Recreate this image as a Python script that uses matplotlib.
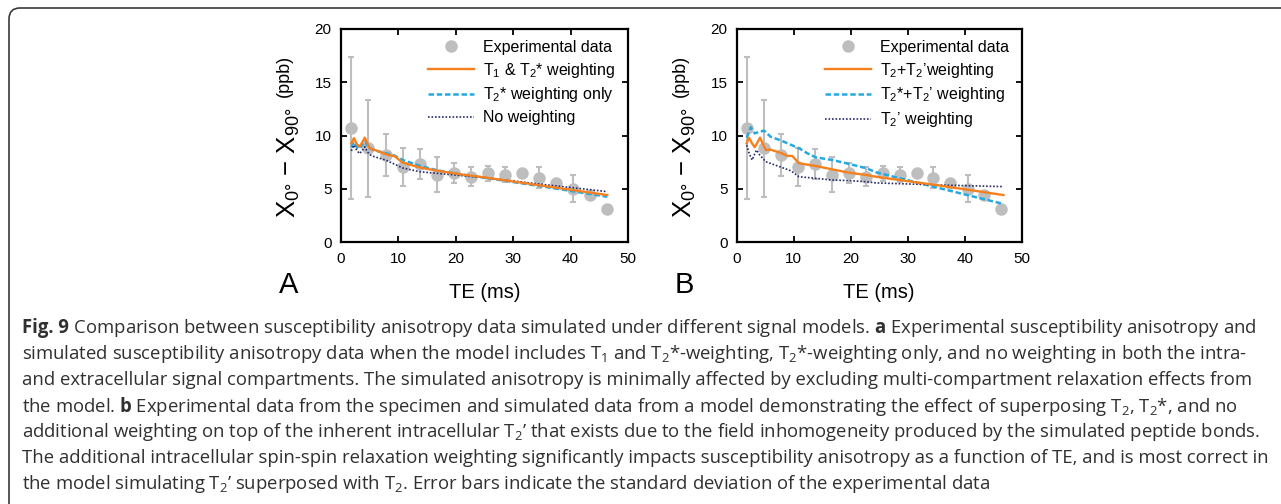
import matplotlib
matplotlib.use('Agg')
import matplotlib.pyplot as plt
from matplotlib.patches import FancyBboxPatch
from matplotlib.transforms import IdentityTransform, offset_copy

plt.rcParams['font.family'] = ['Liberation Sans', 'DejaVu Sans']
plt.rcParams['mathtext.fontset'] = 'custom'
plt.rcParams['mathtext.default'] = 'regular'
plt.rcParams['mathtext.bf'] = 'Open Sans:bold'

# ---------------- data ----------------
te_exp = [1.85, 4.75, 7.8, 10.8, 13.75, 16.7, 19.7, 22.6, 25.6, 28.6, 31.6, 34.5, 37.5, 40.5, 43.4, 46.4]
chi_exp = [10.7, 8.8, 8.15, 7.05, 7.3, 6.3, 6.45, 6.15, 6.45, 6.3, 6.45, 6.05, 5.55, 5.0, 4.4, 3.1]
chi_err = [6.65, 4.55, 1.95, 1.8, 1.4, 1.65, 0.95, 0.9, 0.7, 0.7, 0.3, 1.0, 0.3, 1.25, 0.3, 0.3]

te_sim_a = [1.85, 2.3, 2.8, 3.3, 3.75, 4.2, 4.6, 5.05, 5.9, 7.8, 9.4, 10.8, 13.75, 16.7, 19.7, 22.6, 24.2, 35.3, 46.4]
a_t1_t2s = [9.25, 9.75, 9.2, 8.95, 9.35, 9.8, 9.3, 8.8, 8.65, 8.25, 8.05, 7.45, 7.0, 6.7, 6.45, 6.23, 6.13, 5.27, 4.41]
a_t2s_only = [8.9, 9.4, 8.9, 8.75, 9.1, 9.5, 9.1, 8.8, 8.6, 8.35, 8.1, 7.7, 7.15, 6.75, 6.45, 6.2, 6.1, 5.2, 4.25]
a_none = [8.55, 9.1, 8.6, 8.3, 8.6, 8.95, 8.5, 8.2, 8.0, 7.7, 7.3, 6.95, 6.6, 6.45, 6.3, 6.15, 6.1, 5.4, 4.73]

te_b_orange = [1.75, 2.15, 2.65, 3.16, 3.6, 4.09, 4.6, 5.09, 5.96, 7.9, 8.88, 9.75, 10.93, 13.85, 16.77, 19.8, 22.78, 24.4, 35.6, 46.8]
b_t2_t2p = [9.27, 9.8, 9.3, 8.9, 9.3, 9.8, 9.2, 8.64, 8.67, 8.33, 8.08, 8.08, 7.39, 7.14, 6.82, 6.5, 6.29, 6.13, 5.3, 4.41]
te_b_blue = [1.75, 2.46, 3.16, 4.0, 4.8, 5.96, 7.9, 10.93, 12.4, 13.85, 16.77, 19.8, 22.78, 24.4, 35.6, 46.8]
b_t2s_t2p = [9.8, 10.77, 10.2, 10.35, 10.45, 9.88, 9.5, 8.8, 8.33, 7.95, 7.7, 7.32, 6.92, 6.55, 5.05, 3.57]
te_b_navy = [1.75, 2.2, 2.7, 3.1, 3.5, 4.0, 5.09, 7.9, 9.47, 10.93, 13.85, 16.77, 19.8, 22.78, 24.4, 35.6, 46.8]
b_t2p = [9.1, 8.3, 7.7, 8.2, 8.64, 8.2, 7.54, 7.0, 6.7, 6.13, 5.98, 5.82, 5.76, 5.66, 5.55, 5.35, 5.2]

xticks = [0, 10, 20, 30, 40, 50]
yticks = [0, 5, 10, 15, 20]

labels_a = ['Experimental data', 'T$_1$ & T$_2$* weighting', 'T$_2$* weighting only', 'No weighting']
labels_b = ['Experimental data', 'T$_2$+T$_2$\u2019weighting', 'T$_2$*+T$_2$\u2019 weighting', 'T$_2$\u2019 weighting']

caption_head = 'Fig. 9'
caption_lines = [
    r' Comparison between susceptibility anisotropy data simulated under different signal models. $\mathbf{a}$ Experimental susceptibility anisotropy and',
    'simulated susceptibility anisotropy data when the model includes T$_1$ and T$_2$*-weighting, T$_2$*-weighting only, and no weighting in both the intra-',
    'and extracellular signal compartments. The simulated anisotropy is minimally affected by excluding multi-compartment relaxation effects from',
    r'the model. $\mathbf{b}$ Experimental data from the specimen and simulated data from a model demonstrating the effect of superposing T$_2$, T$_2$*, and no',
    'additional weighting on top of the inherent intracellular T$_2$\u2019 that exists due to the field inhomogeneity produced by the simulated peptide bonds.',
    'The additional intracellular spin-spin relaxation weighting significantly impacts susceptibility anisotropy as a function of TE, and is most correct in',
    'the model simulating T$_2$\u2019 superposed with T$_2$. Error bars indicate the standard deviation of the experimental data',
]

# ---------------- styling ----------------
W, H, DPI = 1281, 504, 100
C_EXP = '#BEBEBE'
C_OR = '#F7801E'
C_BL = '#27A8E0'
C_NV = '#262B6E'
CAP_FAMILY = ['Open Sans', 'DejaVu Sans']


def fx(px):
    return px / W


def fy(py):
    return 1 - py / H


fig = plt.figure(figsize=(W / DPI, H / DPI), dpi=DPI)

axA = fig.add_axes([fx(340.7), fy(242), (628 - 340.7) / W, (242 - 29) / H])
axB = fig.add_axes([fx(736.7), fy(242), (1021.7 - 736.7) / W, (242 - 29) / H])


def draw_exp(ax):
    ax.errorbar(te_exp, chi_exp, yerr=chi_err, fmt='none', ecolor=C_EXP,
                elinewidth=1.5, capsize=2.4, capthick=1.5, zorder=2)
    h, = ax.plot(te_exp, chi_exp, 'o', ms=9, color=C_EXP, mec='none', zorder=3)
    return h


hA0 = draw_exp(axA)
hA1, = axA.plot(te_sim_a, a_t1_t2s, '-', color=C_OR, lw=1.7, zorder=5)
hA2, = axA.plot(te_sim_a, a_t2s_only, color=C_BL, lw=1.8, ls=(0, (2.2, 1.1)), zorder=4)
hA3, = axA.plot(te_sim_a, a_none, color=C_NV, lw=1.2, ls=(0, (1, 1.1)), zorder=4)

hB0 = draw_exp(axB)
hB1, = axB.plot(te_b_orange, b_t2_t2p, '-', color=C_OR, lw=1.7, zorder=5)
hB2, = axB.plot(te_b_blue, b_t2s_t2p, color=C_BL, lw=1.8, ls=(0, (2.2, 1.1)), zorder=4)
hB3, = axB.plot(te_b_navy, b_t2p, color=C_NV, lw=1.2, ls=(0, (1, 1.1)), zorder=4)

for ax in (axA, axB):
    ax.set_xlim(0, 50)
    ax.set_ylim(0, 20)
    ax.set_xticks(xticks)
    ax.set_yticks(yticks)
    ax.tick_params(direction='in', top=True, right=True, length=4, width=1.3,
                   labelsize=11, colors='black')
    ax.tick_params(axis='x', pad=7)
    ax.tick_params(axis='y', pad=6.5)
    for s in ax.spines.values():
        s.set_linewidth(1.6)


def add_legend(ax, handles, labels, left_px, ax_left, ax_w):
    x0 = (left_px - ax_left) / ax_w
    y0 = (242 - 40) / 213
    ax.legend(handles, labels, loc='upper left', bbox_to_anchor=(x0, y0),
              frameon=False, fontsize=11.5, handlelength=2.85, handletextpad=0.6,
              labelspacing=0.36, borderpad=0, borderaxespad=0, numpoints=1)


add_legend(axA, [hA0, hA1, hA2, hA3], labels_a, 428, 340.7, 628 - 340.7)
add_legend(axB, [hB0, hB1, hB2, hB3], labels_b, 825, 736.7, 1021.7 - 736.7)

# y labels
for xb, xp in ((296, 289), (692, 685)):
    fig.text(fx(xb), fy(163), 'X$_{0\u00b0}$ \u2212 X$_{90\u00b0}$', rotation=90,
             rotation_mode='anchor', ha='center', va='baseline', fontsize=18.5)
    fig.text(fx(xp), fy(76), '(ppb)', rotation=90, rotation_mode='anchor',
             ha='center', va='baseline', fontsize=13)

# x labels
fig.text(fx((340.7 + 628) / 2), fy(298), 'TE (ms)', ha='center', va='baseline', fontsize=14.5)
fig.text(fx((736.7 + 1021.7) / 2), fy(298), 'TE (ms)', ha='center', va='baseline', fontsize=14.5)

# panel letters
fig.text(fx(289), fy(293), 'A', ha='center', va='baseline', fontsize=21)
fig.text(fx(684), fy(293), 'B', ha='center', va='baseline', fontsize=21)

# caption
renderer = fig.canvas.get_renderer()
base = 12
head = fig.text(fx(22), fy(328), caption_head, ha='left', va='center', fontsize=base,
                family=CAP_FAMILY, fontweight='bold', color='#303030')
cap_texts = []
for i, line in enumerate(caption_lines):
    t = fig.text(fx(22), fy(328 + 26 * i), line, ha='left', va='center',
                 fontsize=base, family=CAP_FAMILY, color='#303030')
    cap_texts.append(t)


def line_width(i):
    w = cap_texts[i].get_window_extent(renderer).width
    if i == 0:
        w += head.get_window_extent(renderer).width
    return w


wmax = max(line_width(i) for i in range(6))
scale = (1262 - 22) / wmax
head.set_fontsize(base * scale)
for t in cap_texts:
    t.set_fontsize(base * scale)
hw = head.get_window_extent(renderer).width
cap_texts[0].set_x(fx(22 + hw))

# border (rounded box open at right/bottom)
box = FancyBboxPatch((9, -60), 1400, 504 - 8 + 60,
                     boxstyle='round,pad=0,rounding_size=11',
                     fill=False, ec='#3a3a3a', lw=1.2, transform=IdentityTransform())
fig.add_artist(box)

fig.savefig('out.png', dpi=DPI)
